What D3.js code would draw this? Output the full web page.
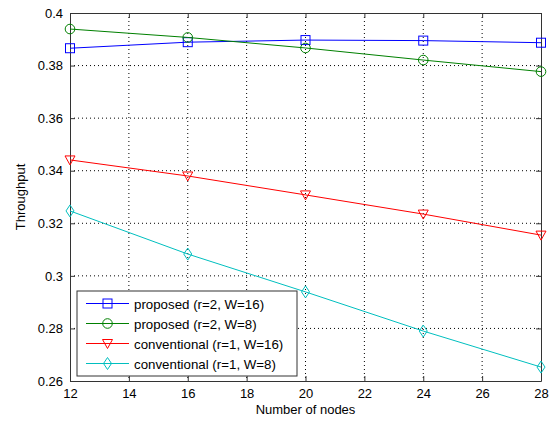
<!DOCTYPE html>
<html>
<head>
<meta charset="utf-8">
<script src="https://cdn.jsdelivr.net/npm/d3@7"></script>
<style>
  body { margin: 0; background: #fff; }
  text { font-family: "Liberation Sans", Arial, sans-serif; }
</style>
</head>
<body>
<div class="chart"></div>
<script>
// data
const nodes = [12, 16, 20, 24, 28];
const propW16 = [0.3866, 0.3889, 0.3897, 0.3895, 0.3887];
const propW8 = [0.3939, 0.3907, 0.3867, 0.3821, 0.3777];
const convW16 = [0.3441, 0.3380, 0.3308, 0.3235, 0.3155];
const convW8 = [0.3247, 0.3083, 0.2939, 0.2790, 0.2653];
const seriesNames = ["proposed (r=2, W=16)", "proposed (r=2, W=8)", "conventional (r=1, W=16)", "conventional (r=1, W=8)"];
const xTicks = [12, 14, 16, 18, 20, 22, 24, 26, 28];
const yTicks = [0.26, 0.28, 0.3, 0.32, 0.34, 0.36, 0.38, 0.4];

const series = [
    {name: seriesNames[0], values: propW16, color: "#0000ff", marker: "square"},
    {name: seriesNames[1], values: propW8, color: "#008000", marker: "circle"},
    {name: seriesNames[2], values: convW16, color: "#ff0000", marker: "tri"},
    {name: seriesNames[3], values: convW8, color: "#00bfbf", marker: "diamond"}
];

var margin = {top: 13, right: 11, bottom: 40, left: 70};
const width = 552 - margin.left - margin.right;
const height = 421 - margin.top - margin.bottom;

const svg = d3.select(".chart")
    .append("svg")
    .attr("width", 552)
    .attr("height", 421)
    .append("g")
    .attr("transform", `translate(${margin.left},${margin.top})`);

const xScale = d3.scaleLinear().domain([12, 28]).range([0, width]);
const yScale = d3.scaleLinear().domain([0.26, 0.4]).range([height, 0]);

// grid
svg.append("g").selectAll("line")
    .data(xTicks.slice(1, -1))
    .enter().append("line")
    .attr("x1", d => xScale(d)).attr("x2", d => xScale(d))
    .attr("y1", 0).attr("y2", height)
    .attr("stroke", "#000").attr("stroke-width", 1)
    .attr("stroke-dasharray", "1,3");
svg.append("g").selectAll("line")
    .data(yTicks.slice(1, -1))
    .enter().append("line")
    .attr("y1", d => yScale(d)).attr("y2", d => yScale(d))
    .attr("x1", 0).attr("x2", width)
    .attr("stroke", "#000").attr("stroke-width", 1)
    .attr("stroke-dasharray", "1,3");

// axes, ticks inward
const xAxis = d3.axisBottom(xScale).tickValues(xTicks).tickSizeInner(-5).tickSizeOuter(0).tickPadding(8).tickFormat(d3.format("d"));
const yAxis = d3.axisLeft(yScale).tickValues(yTicks).tickSizeInner(-5).tickSizeOuter(0).tickPadding(7).tickFormat(d => d3.format("")(+d.toFixed(2)));
const xTop = d3.axisTop(xScale).tickValues(xTicks).tickSizeInner(-5).tickSizeOuter(0).tickFormat("");
const yRight = d3.axisRight(yScale).tickValues(yTicks).tickSizeInner(-5).tickSizeOuter(0).tickFormat("");

svg.append("g").attr("class", "axis").attr("transform", `translate(0,${height})`).call(xAxis);
svg.append("g").attr("class", "axis").call(yAxis);
svg.append("g").attr("class", "axis").call(xTop);
svg.append("g").attr("class", "axis").attr("transform", `translate(${width},0)`).call(yRight);

svg.selectAll(".axis path").attr("stroke", "#333");
svg.selectAll(".axis line").attr("stroke", "#333");
svg.selectAll(".axis text").attr("font-size", 13).attr("fill", "#000")
    .attr("font-family", "'Liberation Sans', Arial, sans-serif");

// lines and markers
const line = d3.line()
    .x((d, i) => xScale(nodes[i]))
    .y(d => yScale(d));

function drawMarker(g, type, color) {
    if (type === "square") {
        g.append("rect").attr("x", -4.5).attr("y", -4.5).attr("width", 9).attr("height", 9);
    } else if (type === "circle") {
        g.append("circle").attr("r", 4.8);
    } else if (type === "tri") {
        g.append("path").attr("d", "M-5,-4L5,-4L0,5Z");
    } else {
        g.append("path").attr("d", "M0,-6L4,0L0,6L-4,0Z");
    }
    g.selectAll("*").attr("fill", "none").attr("stroke", color).attr("stroke-width", 1);
}

series.forEach(s => {
    svg.append("path")
        .datum(s.values)
        .attr("d", line)
        .attr("fill", "none")
        .attr("stroke", s.color)
        .attr("stroke-width", 1);
    s.values.forEach((v, i) => {
        const g = svg.append("g").attr("transform", `translate(${xScale(nodes[i])},${yScale(v)})`);
        drawMarker(g, s.marker, s.color);
    });
});

// legend
const legend = svg.append("g").attr("transform", "translate(7,278)");
legend.append("rect")
    .attr("width", 220).attr("height", 85)
    .attr("fill", "#fff").attr("stroke", "#333").attr("stroke-width", 1);
series.forEach((s, i) => {
    const y = 12.5 + i * 20;
    legend.append("line")
        .attr("x1", 9).attr("x2", 52).attr("y1", y).attr("y2", y)
        .attr("stroke", s.color).attr("stroke-width", 1);
    const g = legend.append("g").attr("transform", `translate(30.5,${y})`);
    drawMarker(g, s.marker, s.color);
    legend.append("text")
        .attr("x", 57).attr("y", y + 5)
        .attr("font-size", 13.3)
        .text(s.name);
});

// axis labels
svg.append("text")
    .attr("x", width / 2).attr("y", height + 33)
    .attr("text-anchor", "middle").attr("font-size", 13)
    .text("Number of nodes");
svg.append("text")
    .attr("transform", `translate(-45,${height / 2}) rotate(-90)`)
    .attr("text-anchor", "middle").attr("font-size", 13)
    .text("Throughput");
</script>
</body>
</html>
